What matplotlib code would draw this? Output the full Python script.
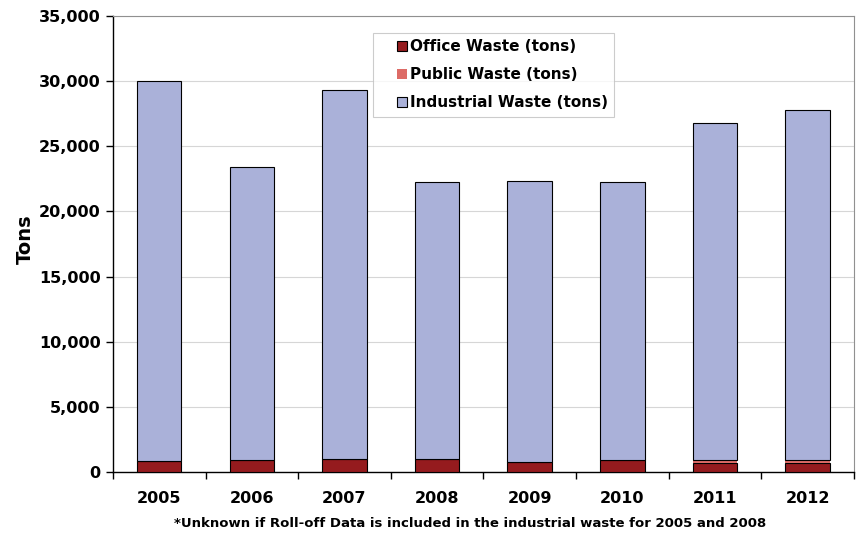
import numpy as np
from matplotlib import pyplot as plt
from matplotlib.patches import Rectangle
from matplotlib.legend_handler import HandlerPatch

years = ['2005', '2006', '2007', '2008', '2009', '2010', '2011', '2012']
office = [850, 920, 1000, 1000, 800, 900, 670, 700]
public = [0, 0, 0, 0, 0, 0, 230, 250]
totals = [30000, 23380, 29310, 22230, 22310, 22230, 26770, 27800]
industrial = [t - o - p for t, o, p in zip(totals, office, public)]

yticks = np.arange(0, 35001, 5000)

fig = plt.figure(figsize=(8.59, 5.33), dpi=100)
ax = fig.add_axes([0.1315, 0.1144, 0.8625, 0.8556])

x = np.arange(len(years))
w = 0.48
b1 = ax.bar(x, office, w, color='#951b1e', edgecolor='black', linewidth=0.8,
            label='Office Waste (tons)', zorder=3)
b2 = ax.bar(x, public, w, bottom=office, color='#dd6b66', edgecolor='none',
            label='Public Waste (tons)', zorder=3)
base = [o + p for o, p in zip(office, public)]
b3 = ax.bar(x, industrial, w, bottom=base, color='#aab1d9', edgecolor='black',
            linewidth=0.8, label='Industrial Waste (tons)', zorder=3)

ax.set_xlim(-0.5, len(years) - 0.5)
ax.set_ylim(0, 35000)
ax.set_yticks(yticks)
ax.set_yticklabels(['{:,}'.format(v) for v in yticks], fontsize=11.5,
                   fontweight='bold')
ax.set_xticks(x)
ax.set_xticklabels(years, fontsize=11.5, fontweight='bold')
ax.set_xticks(np.arange(-0.5, len(years)), minor=True)
ax.tick_params(axis='x', which='major', length=0, pad=14)
ax.tick_params(axis='x', which='minor', length=5, width=1)
ax.tick_params(axis='y', length=5, width=1, pad=4)
ax.grid(axis='y', color='#d6d6d6', linewidth=0.8, zorder=0)

for s in ['top', 'right']:
    ax.spines[s].set_color('#909090')
ax.spines['left'].set_linewidth(1)
ax.spines['bottom'].set_linewidth(1)

ax.set_ylabel('Tons', fontsize=14, fontweight='bold')
ax.yaxis.set_label_coords(-0.106, 0.51)


# square swatch pushed to the right end of the handle box
def swatch(legend, orig_handle, xdescent, ydescent, width, height, fontsize):
    h = height * 0.95
    return Rectangle((-xdescent + width - h, -ydescent), h, h)


handles = [b.patches[0] for b in (b1, b2, b3)]
labels = [b.get_label() for b in (b1, b2, b3)]
leg = ax.legend(handles, labels, loc='upper left', bbox_to_anchor=(0.351, 0.962),
                fancybox=False, prop={'weight': 'bold', 'size': 11},
                handlelength=1.83, handleheight=0.7, handletextpad=0.2,
                labelspacing=0.85, borderpad=0.4, borderaxespad=0,
                handler_map={Rectangle: HandlerPatch(patch_func=swatch)})
leg.get_frame().set_edgecolor('#c0c0c0')
leg.get_frame().set_linewidth(0.8)

fig.text(0.547, 0.012, '*Unknown if Roll-off Data is included in the industrial waste for 2005 and 2008',
         ha='center', fontsize=9.5, fontweight='bold')

fig.savefig('out.png', dpi=100)
